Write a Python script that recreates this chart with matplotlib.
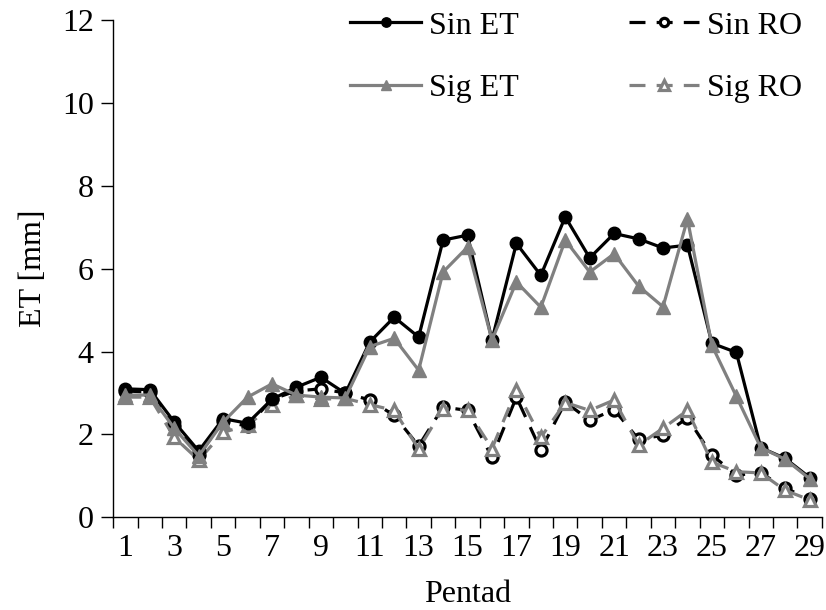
import matplotlib.pyplot as plt

plt.rcParams['font.family'] = ['Liberation Serif', 'DejaVu Serif']

pentad = list(range(1, 30))
sin_et = [3.1, 3.08, 2.3, 1.6, 2.38, 2.27, 2.85, 3.14, 3.38, 2.99,
          4.23, 4.83, 4.35, 6.69, 6.81, 4.28, 6.61, 5.84, 7.25, 6.26,
          6.85, 6.72, 6.5, 6.57, 4.2, 3.98, 1.68, 1.42, 0.96]
sig_et = [2.95, 2.95, 2.15, 1.48, 2.3, 2.9, 3.22, 2.95, 2.9, 2.88,
          4.12, 4.32, 3.55, 5.92, 6.52, 4.28, 5.68, 5.07, 6.69, 5.92,
          6.36, 5.58, 5.08, 7.2, 4.15, 2.92, 1.68, 1.4, 0.93]
sin_ro = [3.05, 3.02, 2.2, 1.5, 2.32, 2.2, 2.85, 3.05, 3.1, 3.0,
          2.83, 2.46, 1.72, 2.66, 2.58, 1.45, 2.9, 1.62, 2.78, 2.34,
          2.6, 1.88, 1.98, 2.4, 1.5, 1.02, 1.07, 0.7, 0.45]
sig_ro = [2.9, 2.9, 1.93, 1.38, 2.05, 2.22, 2.7, 2.95, 2.85, 2.87,
          2.72, 2.58, 1.65, 2.62, 2.58, 1.66, 3.07, 1.93, 2.77, 2.58,
          2.83, 1.74, 2.15, 2.58, 1.33, 1.1, 1.07, 0.65, 0.42]

gray = '#808080'
fs = 23
fig = plt.figure(figsize=(8.26, 6.1), dpi=100)
ax = fig.add_axes([0.137, 0.152, 0.858, 0.815])

ax.plot(pentad, sin_et, color='black', lw=2.3, marker='o', ms=9,
        label='Sin ET', zorder=4)
ax.plot(pentad, sig_et, color=gray, lw=2.3, marker='^', ms=9.5,
        label='Sig ET', zorder=5)
ax.plot(pentad, sin_ro, color='black', lw=2.3, marker='o', ms=8,
        mfc='white', mew=2.3, dashes=(5, 3.5), label='Sin RO', zorder=2)
ax.plot(pentad, sig_ro, color=gray, lw=2.3, marker='^', ms=9,
        mfc='white', mew=2.3, dashes=(5, 3.5), label='Sig RO', zorder=3)

ax.set_xlim(0.5, 29.5)
ax.set_ylim(0, 12)
ax.set_yticks(range(0, 13, 2))
ax.set_xticks([i + 0.5 for i in range(0, 30)])
ax.set_xticklabels([])
ax.set_xticks(pentad[::2], minor=True)
ax.set_xticklabels([str(p) for p in pentad[::2]], minor=True)
ax.tick_params(axis='x', which='major', direction='out', length=8, width=1)
ax.tick_params(axis='x', which='minor', length=0, pad=12, labelsize=fs)
ax.tick_params(axis='y', direction='out', length=9, width=1, labelsize=fs, pad=5)

for s in ['top', 'right']:
    ax.spines[s].set_visible(False)
for s in ['left', 'bottom']:
    ax.spines[s].set_linewidth(1)

ax.set_xlabel('Pentad', fontsize=fs, labelpad=12)
ax.set_ylabel('ET [mm]', fontsize=fs, labelpad=10)

ax.legend(ncol=2, loc='upper right', bbox_to_anchor=(0.972, 1.018),
          frameon=False, fontsize=fs, handlelength=2.2, handletextpad=0.25,
          columnspacing=3.45, labelspacing=1.05, markerscale=0.75,
          borderpad=0, borderaxespad=0)

plt.savefig('out.png', dpi=100)
